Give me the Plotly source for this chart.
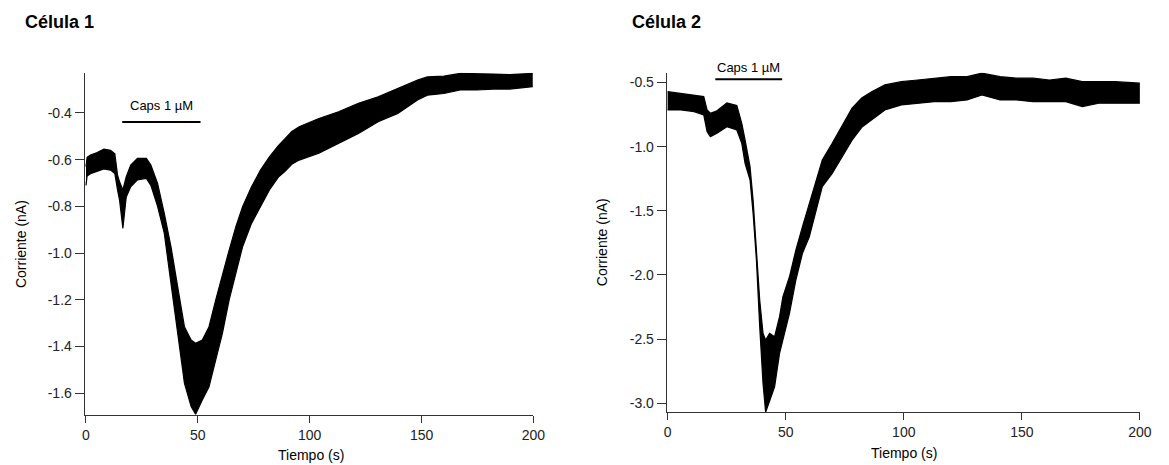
import plotly.graph_objects as go

# ---------------- data ----------------
# Cell 1: time (s), upper and lower envelope of the noisy current trace (nA)
t1 = [0, 0.5, 2, 5, 8, 11, 12.9, 14.1, 15, 16.5, 18, 20, 23, 27, 29, 32, 35, 38, 41,
      44, 47, 49, 52, 55, 58, 61, 64, 67, 70, 74, 78, 82, 86, 89, 92, 95.3, 104.1,
      112.9, 121.8, 130.6, 139.4, 148.2, 152.6, 160, 167.3, 174.7, 182, 189.4, 199.7]
up1 = [-0.63, -0.59, -0.58, -0.57, -0.555, -0.56, -0.575, -0.666, -0.695, -0.73,
       -0.673, -0.623, -0.595, -0.595, -0.623, -0.702, -0.83, -0.973, -1.144, -1.315,
       -1.372, -1.386, -1.372, -1.315, -1.2, -1.087, -0.987, -0.887, -0.802, -0.716,
       -0.645, -0.588, -0.54, -0.51, -0.48, -0.459, -0.424, -0.395, -0.359, -0.331,
       -0.295, -0.26, -0.246, -0.243, -0.231, -0.234, -0.234, -0.236, -0.231]
lo1 = [-0.71, -0.67, -0.66, -0.65, -0.64, -0.645, -0.66, -0.73, -0.773, -0.894,
       -0.76, -0.716, -0.687, -0.68, -0.71, -0.8, -0.915, -1.13, -1.342, -1.557,
       -1.657, -1.69, -1.629, -1.572, -1.457, -1.343, -1.2, -1.087, -0.973, -0.873,
       -0.8, -0.73, -0.675, -0.65, -0.62, -0.602, -0.573, -0.53, -0.488, -0.438,
       -0.402, -0.345, -0.324, -0.317, -0.302, -0.302, -0.298, -0.298, -0.288]

# Cell 2
t2 = [0, 5.6, 11.2, 15.3, 16.7, 18.1, 20.9, 25.1, 29.3, 31.4, 32.8, 34.9, 36.2, 37.6,
      39.0, 40.4, 41.5, 43.2, 45.3, 47.4, 48.8, 51.6, 54.3, 57.1, 60.0, 62.7, 65.5,
      69.7, 73.9, 78.1, 82.2, 86.4, 92, 99, 105.9, 112.9, 119.9, 126.8, 133.1, 140.8,
      147.7, 154.7, 161.7, 168.6, 175.6, 182.6, 189.5, 200]
up2 = [-0.572, -0.584, -0.597, -0.61, -0.714, -0.74, -0.72, -0.66, -0.68, -0.818,
       -0.948, -1.156, -1.416, -1.78, -2.195, -2.455, -2.507, -2.455, -2.481, -2.325,
       -2.17, -2.014, -1.806, -1.624, -1.442, -1.286, -1.104, -0.974, -0.84, -0.7,
       -0.62, -0.572, -0.519, -0.494, -0.481, -0.467, -0.455, -0.455, -0.428, -0.455,
       -0.467, -0.467, -0.481, -0.467, -0.494, -0.494, -0.494, -0.506]
lo2 = [-0.714, -0.714, -0.727, -0.753, -0.883, -0.922, -0.896, -0.845, -0.87, -0.974,
       -1.13, -1.26, -1.52, -1.883, -2.403, -2.845, -3.07, -2.975, -2.871, -2.611,
       -2.507, -2.299, -2.04, -1.831, -1.702, -1.52, -1.312, -1.208, -1.078, -0.95,
       -0.85, -0.792, -0.714, -0.675, -0.662, -0.65, -0.65, -0.636, -0.597, -0.636,
       -0.636, -0.65, -0.65, -0.65, -0.688, -0.662, -0.662, -0.662]

# capsaicin application (s)
caps1 = [16.2, 51.2]
caps2 = [20.2, 48.5]
caps_label = "Caps 1 µM"

x_ticks = [0, 50, 100, 150, 200]
x_ticklabels = ["0", "50", "100", "150", "200"]
y1_ticks = [-1.6, -1.4, -1.2, -1.0, -0.8, -0.6, -0.4]
y1_ticklabels = ["-1.6", "-1.4", "-1.2", "-1.0", "-0.8", "-0.6", "-0.4"]
y2_ticks = [-3.0, -2.5, -2.0, -1.5, -1.0, -0.5]
y2_ticklabels = ["-3.0", "-2.5", "-2.0", "-1.5", "-1.0", "-0.5"]

titles = ["Célula 1", "Célula 2"]
x_title = "Tiempo (s)"
y_title = "Corriente (nA)"

# ---------------- figure ----------------
FONT = "Liberation Sans, Arial, sans-serif"
W, H = 1169, 465
fig = go.Figure()

for t, up, lo, xa, ya in [(t1, up1, lo1, "x", "y"), (t2, up2, lo2, "x2", "y2")]:
    fig.add_trace(go.Scatter(x=t, y=up, mode="lines", line=dict(color="black", width=1.2),
                             xaxis=xa, yaxis=ya, hoverinfo="skip", showlegend=False))
    fig.add_trace(go.Scatter(x=t, y=lo, mode="lines", line=dict(color="black", width=1.2),
                             fill="tonexty", fillcolor="black",
                             xaxis=xa, yaxis=ya, hoverinfo="skip", showlegend=False))

axis_common = dict(showline=True, linecolor="#333333", linewidth=1, ticks="outside",
                   tickcolor="#333333", tickwidth=1, showgrid=False,
                   zeroline=False, tickfont=dict(family=FONT, size=14, color="#222222"))

y1_dom = [1 - 415 / H, 1 - 72.7 / H]
y2_dom = [1 - 412.3 / H, 1 - 72.7 / H]
fig.update_layout(
    width=W, height=H, margin=dict(l=0, r=0, t=0, b=0),
    paper_bgcolor="white", plot_bgcolor="white", showlegend=False,
    xaxis=dict(domain=[82.7 / W, 537.3 / W], range=[-0.6, 200], tickvals=x_ticks,
               ticktext=x_ticklabels, anchor="y", ticklen=7, **axis_common),
    yaxis=dict(domain=y1_dom, range=[-1.693, -0.228], tickvals=y1_ticks,
               ticktext=y1_ticklabels, anchor="x", ticklen=9, **axis_common),
    xaxis2=dict(domain=[672.3 / W, 1151.7 / W], range=[-0.4, 200], tickvals=x_ticks,
                ticktext=x_ticklabels, anchor="y2", ticklen=7, **axis_common),
    yaxis2=dict(domain=y2_dom, range=[-3.07, -0.424], tickvals=y2_ticks,
                ticktext=y2_ticklabels, anchor="x2", ticklen=9, **axis_common),
)

# capsaicin bars + labels (bar in data coords, label just above it in pixels)
for caps, xr, yr, ybar, ytxt_px in [(caps1, "x", "y", -0.439, 105),
                                    (caps2, "x2", "y2", -0.475, 67.7)]:
    fig.add_shape(type="line", xref=xr, yref=yr, x0=caps[0], x1=caps[1], y0=ybar, y1=ybar,
                  line=dict(color="black", width=2))
    fig.add_annotation(xref=xr, yref="paper", x=(caps[0] + caps[1]) / 2, y=1 - ytxt_px / H,
                       text=caps_label, showarrow=False, yanchor="middle",
                       font=dict(family=FONT, size=13, color="black"))

# panel titles
for xp, txt in [(20 / W, titles[0]), (635 / W, titles[1])]:
    fig.add_annotation(xref="paper", yref="paper", x=xp, y=1 - 21.5 / H, text="<b>%s</b>" % txt,
                       showarrow=False, xanchor="left", yanchor="middle",
                       font=dict(family=FONT, size=18, color="black"))

# axis titles
for xp, yp in [(311.7 / W, 1 - 455 / H), (913 / W, 1 - 453 / H)]:
    fig.add_annotation(xref="paper", yref="paper", x=xp, y=yp, text=x_title, showarrow=False,
                       xanchor="center", yanchor="middle",
                       font=dict(family=FONT, size=14, color="black"))
for xp, yp in [(18.3 / W, 1 - 244 / H), (607 / W, 1 - 242 / H)]:
    fig.add_annotation(xref="paper", yref="paper", x=xp, y=yp, text=y_title, showarrow=False,
                       xanchor="center", yanchor="middle", textangle=-90,
                       font=dict(family=FONT, size=14, color="black"))

fig.write_html("out.html", config={"displayModeBar": False},
               post_script="document.body.style.margin='0';document.body.style.overflow='hidden';")
